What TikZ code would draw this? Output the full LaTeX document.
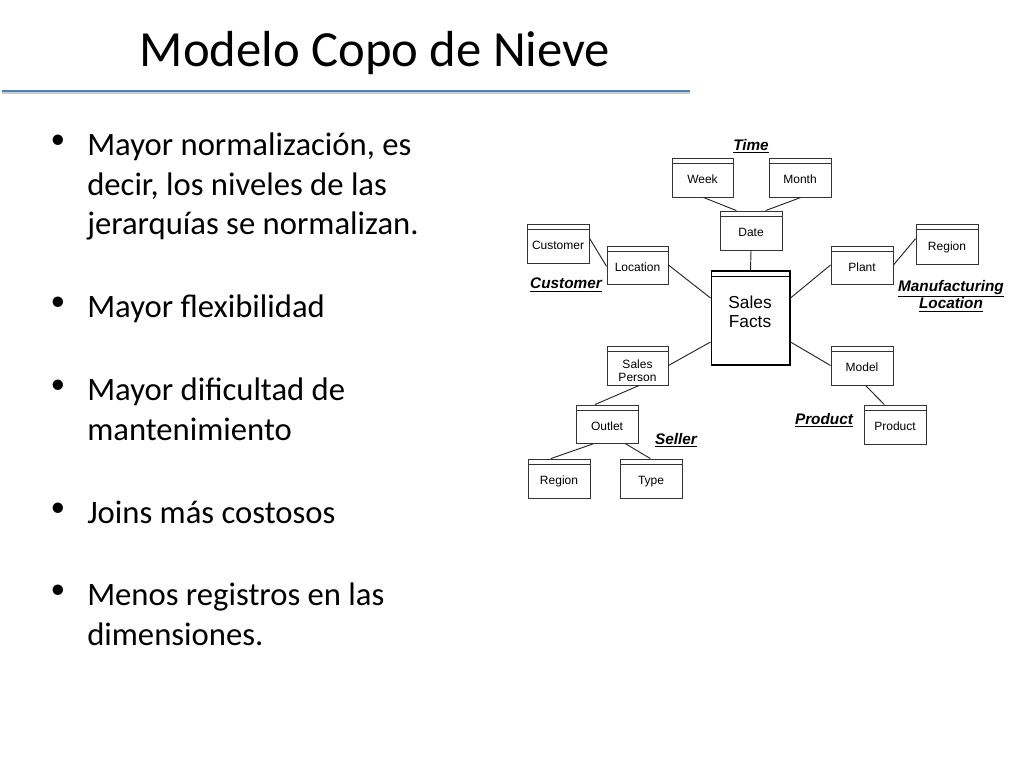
\documentclass[tikz,border=0pt]{standalone}
\usepackage{fontspec}
\setmainfont{Carlito}
\newfontfamily\arialf{Liberation Sans}
\tikzset{
 tbl/.style={draw=black!80, line width=0.7pt, inner sep=0pt, font=\arialf\fontsize{9}{10}\selectfont, align=center, text depth=0pt,
   path picture={\draw[black!80,line width=0.6pt] ([yshift=-4pt]path picture bounding box.north west) -- ([yshift=-4pt]path picture bounding box.north east);}},
 lab/.style={font=\arialf\bfseries\itshape\fontsize{11.5}{13}\selectfont, align=center},
 conn/.style={black!85, line width=0.7pt},
 bul/.style={anchor=north west, align=left, font=\fontsize{24.5}{29.3}\selectfont, inner sep=0pt}
}
\newcommand{\tb}[6]{\node[tbl, minimum width=#4*0.75pt-#2*0.75pt, minimum height=#5*0.75pt-#3*0.75pt] (#1) at ({(#2+#4)/2},{(#3+#5)/2}) {\raisebox{-2.5pt}{\begin{tabular}{@{}c@{}}#6\end{tabular}}};}
\newcommand{\ul}[1]{\underline{#1}}
\begin{document}
\begin{tikzpicture}[x=0.75pt,y=-0.75pt]
\useasboundingbox (0,0) rectangle (1024,768);
\node[font=\fontsize{38}{44}\selectfont] (title) at (375,53) {Modelo Copo de Nieve};
\coordinate (la) at (2,91); \coordinate (lb) at (690,91);
\draw[line width=2.2pt, black!20] ([yshift=-1.5pt]la) -- ([yshift=-1.5pt]lb);
\draw[line width=2.2pt, color={rgb,255:red,79;green,129;blue,189}] (la) -- (lb);
% bullets
\foreach \y/\t [count=\i] in {
 133/{Mayor normalización, es\\decir, los niveles de las\\jerarquías se normalizan.},
 295/{Mayor flexibilidad},
 378/{Mayor dificultad de\\mantenimiento},
 501/{Joins más costosos},
 583/{Menos registros en las\\dimensiones.}}{
 \node[bul] (b\i) at (87,\y) {\t};
 \node[anchor=north, inner sep=0pt, font=\fontsize{22}{29}\selectfont] (d\i) at (58,\y+2) {•};
}
% tables
\tb{week}{672}{158}{733}{197}{Week}
\tb{month}{769}{158}{831}{197}{Month}
\tb{date}{720}{211}{782}{250}{Date}
\tb{cust}{527}{224}{589}{263}{Customer}
\tb{loc}{607}{246}{668}{284}{Location}
\node[draw=black, line width=1pt, minimum width=59pt, minimum height=70.5pt, inner sep=0pt,
  path picture={\draw[line width=1pt] ([yshift=-4pt]path picture bounding box.north west) -- ([yshift=-4pt]path picture bounding box.north east);}] (sf) at (750.5,318) {};
\node[font=\arialf\fontsize{13}{14.5}\selectfont, align=center] (sft) at (750,312) {Sales\\Facts};
\tb{plant}{831}{246}{893}{284}{Plant}
\tb{regr}{916}{224}{978}{264}{Region}
\tb{sp}{607}{346}{668}{385}{Sales\\Person}
\tb{model}{831}{346}{893}{385}{Model}
\tb{outlet}{576}{405}{638}{443}{Outlet}
\tb{prod}{864}{405}{926}{444}{Product}
\tb{regl}{528}{459}{590}{498}{Region}
\tb{type}{620}{459}{682}{498}{Type}
% labels
\node[lab] (lt) at (751,146) {\ul{Time}};
\node[lab] (lc) at (566,285) {\ul{Customer}};
\node[lab] (lm) at (951,296) {\ul{Manufacturing}\\\ul{Location}};
\node[lab] (lp) at (824,420) {\ul{Product}};
\node[lab] (ls) at (676,440) {\ul{Seller}};
% connectors
\draw[conn] ([xshift=-22.5pt]week.south east) -- ([xshift=-11pt]date.north);
\draw[conn] ([xshift=-23pt]month.south east) -- ([xshift=11pt]date.north);
\draw[conn] (date.south) -- (sf.north);
\draw[conn] ([yshift=4pt]cust.east) -- ([yshift=-1pt]loc.west);
\draw[conn] (loc.east) -- ([yshift=15pt]sf.west);
\draw[conn] (plant.west) -- ([yshift=15pt]sf.east);
\draw[conn] (plant.east) -- ([yshift=4pt]regr.west);
\draw[conn] ([yshift=-18pt]sf.west) -- (sp.east);
\draw[conn] ([yshift=-18pt]sf.east) -- (model.west);
\draw[conn] ([xshift=-21pt]model.south east) -- ([xshift=-8pt]prod.north);
\draw[conn] ([xshift=-22pt]sp.south east) -- ([xshift=-9pt]outlet.north);
\draw[conn] ([xshift=14pt]outlet.south west) -- ([xshift=-6pt]regl.north);
\draw[conn] ([xshift=-10pt]outlet.south east) -- ([xshift=-0.5pt]type.north);
\end{tikzpicture}
\end{document}
